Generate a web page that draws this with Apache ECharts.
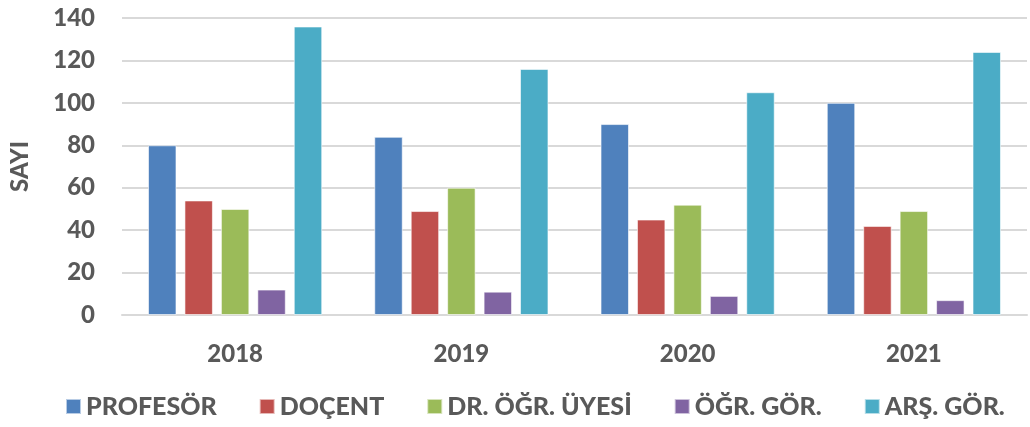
<!DOCTYPE html>
<html>
<head>
<meta charset="utf-8">
<script src="https://cdn.jsdelivr.net/npm/echarts@6/dist/echarts.min.js"></script>
<style>
  html, body { margin: 0; padding: 0; background: #fff; }
  #chart { width: 1030px; height: 427px; }
</style>
</head>
<body>
<div id="chart"></div>
<script>
// years on the x axis
const years = ['2018', '2019', '2020', '2021'];
const seriesNames = ['PROFESÖR', 'DOÇENT', 'DR. ÖĞR. ÜYESİ', 'ÖĞR. GÖR.', 'ARŞ. GÖR.'];
const profesor = [80, 84, 90, 100];
const docent = [54, 49, 45, 42];
const drOgrUyesi = [50, 60, 52, 49];
const ogrGor = [12, 11, 9, 7];
const arsGor = [136, 116, 105, 124];
const colors = ['#4f81bd', '#c0504d', '#9bbb59', '#8064a2', '#4bacc6'];

const font = 'Lato, "Open Sans", sans-serif';
const txt = '#595959';

const myChart = echarts.init(document.getElementById('chart'));
const values = [profesor, docent, drOgrUyesi, ogrGor, arsGor];

const option = {
  color: colors,
  textStyle: { fontFamily: font },
  grid: { left: 118, right: 3, top: 18, bottom: 112 },
  legend: {
    bottom: 3,
    left: 60,
    itemWidth: 15,
    itemHeight: 15,
    itemGap: 42,
    icon: 'rect',
    textStyle: { color: txt, fontSize: 25, fontWeight: 900, fontFamily: font }
  },
  xAxis: {
    type: 'category',
    data: years,
    axisTick: { show: false },
    axisLine: { lineStyle: { color: '#d9d9d9', width: 2 } },
    axisLabel: { color: txt, fontSize: 24, fontWeight: 900, margin: 27 }
  },
  yAxis: {
    type: 'value',
    min: 0,
    max: 140,
    interval: 20,
    name: 'SAYI',
    nameLocation: 'middle',
    nameGap: 90,
    nameTextStyle: { color: txt, fontSize: 24, fontWeight: 900 },
    axisLine: { show: false },
    axisTick: { show: false },
    axisLabel: { color: txt, fontSize: 24, fontWeight: 900, margin: 27 },
    splitLine: { lineStyle: { color: '#d9d9d9', width: 2 } }
  },
  series: seriesNames.map((n, i) => ({
    name: n,
    type: 'bar',
    data: values[i],
    barGap: '28%',
    barCategoryGap: '23%',
    itemStyle: { borderColor: 'rgba(255,255,255,0.6)', borderWidth: 1 }
  }))
};
myChart.setOption(option);
window.addEventListener('resize', () => {
  myChart.resize();
});
</script>
</body>
</html>
